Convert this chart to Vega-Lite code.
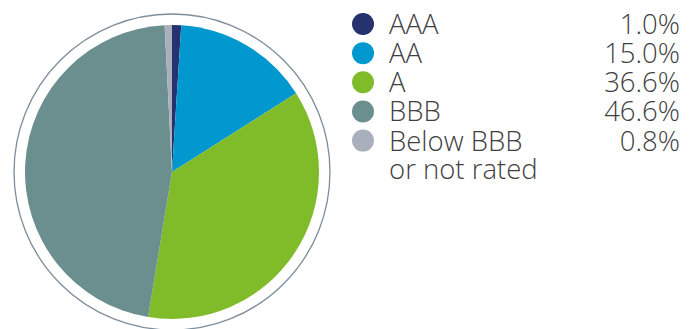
{
  "$schema": "https://vega.github.io/schema/vega-lite/v6.json",
  "padding": {"left": 0, "top": 11, "right": 0, "bottom": 0},
  "background": "white",
  "config": {"view": {"stroke": null}, "concat": {"spacing": 8}},
  "datasets": {
    "ratings": [
      {"rating": "AAA", "share": 0.010, "rank": 1},
      {"rating": "AA", "share": 0.150, "rank": 2},
      {"rating": "A", "share": 0.366, "rank": 3},
      {"rating": "BBB", "share": 0.466, "rank": 4},
      {"rating": "Below BBB\nor not rated", "share": 0.008, "rank": 5}
    ]
  },
  "hconcat": [
    {
      "width": 344,
      "height": 318,
      "layer": [
        {
          "data": {"values": [{"ring": "outline"}]},
          "mark": {"type": "point", "shape": "circle", "filled": false, "size": 99856, "stroke": "#7d8d9c", "strokeWidth": 1.3, "opacity": 1},
          "encoding": {}
        },
        {
          "data": {"name": "ratings"},
          "mark": {"type": "arc", "outerRadius": 147},
          "encoding": {
            "theta": {"field": "share", "type": "quantitative", "stack": true},
            "order": {"field": "rank", "type": "quantitative"},
            "color": {
              "field": "rating", "type": "nominal",
              "scale": {"domain": ["AAA", "AA", "A", "BBB", "Below BBB\nor not rated"], "range": ["#263270", "#0098ce", "#80bb29", "#6b8f8f", "#aab0bb"]},
              "legend": null
            }
          }
        }
      ]
    },
    {
      "width": 328,
      "height": 138.6,
      "data": {"name": "ratings"},
      "encoding": {
        "y": {"field": "rating", "type": "ordinal", "scale": {"type": "point", "padding": 0.377, "domain": ["AAA", "AA", "A", "BBB", "Below BBB\nor not rated"]}, "axis": null}
      },
      "layer": [
        {
          "mark": {"type": "point", "shape": "circle", "filled": true, "size": 484, "opacity": 1, "x": 11},
          "encoding": {
            "color": {
              "field": "rating", "type": "nominal",
              "scale": {"domain": ["AAA", "AA", "A", "BBB", "Below BBB\nor not rated"], "range": ["#263270", "#0098ce", "#80bb29", "#6b8f8f", "#aab0bb"]},
              "legend": null
            }
          }
        },
        {
          "mark": {"type": "text", "x": 37, "align": "left", "baseline": "alphabetic", "dy": 10, "font": "Open Sans", "fontSize": 27.5, "fontWeight": 300, "lineBreak": "\n", "lineHeight": 28.4, "color": "#3f3f3f"},
          "encoding": {"text": {"field": "rating", "type": "nominal"}}
        },
        {
          "mark": {"type": "text", "x": "width", "align": "right", "baseline": "alphabetic", "dy": 10, "font": "Open Sans", "fontSize": 27.5, "fontWeight": 300, "color": "#3f3f3f"},
          "encoding": {"text": {"field": "share", "type": "quantitative", "format": ".1%"}}
        }
      ]
    }
  ]
}
